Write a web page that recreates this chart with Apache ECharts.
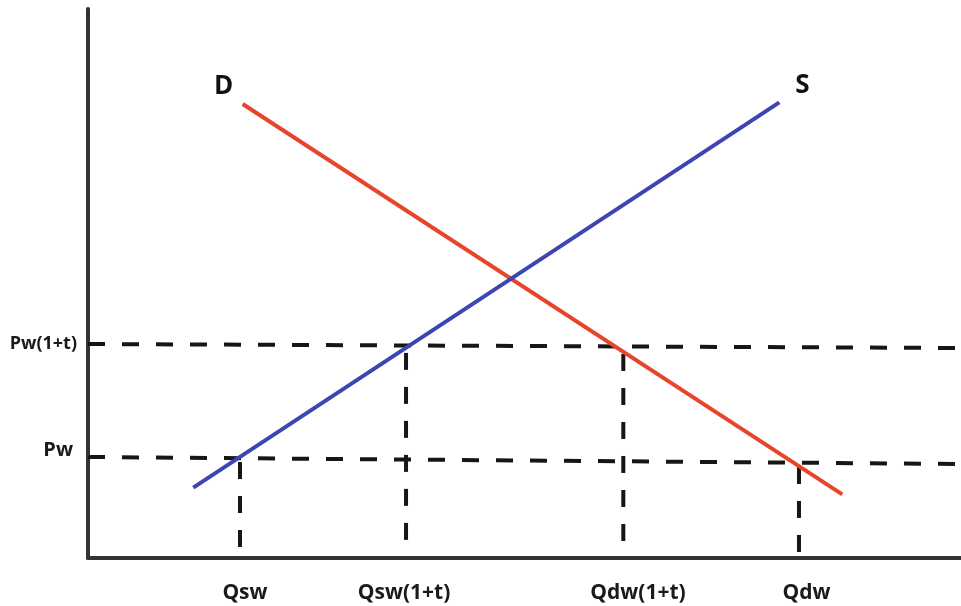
<!DOCTYPE html>
<html>
<head>
<meta charset="utf-8">
<script src="https://cdn.jsdelivr.net/npm/echarts@6/dist/echarts.min.js"></script>
<style>
html,body{margin:0;padding:0;background:#fff;}
#chart{width:961px;height:606px;}
</style>
</head>
<body>
<div id="chart"></div>
<script>
// Data (abstract units: x 0-100 quantity, y 0-100 price)
const demandX = [17.72, 86.40];
const demandY = [82.70, 11.60];
const supplyX = [12.06, 79.19];
const supplyY = [12.81, 83.00];

const pwTaxLineX = [0, 100];
const pwTaxLineY = [38.98, 38.25];
const pwLineX = [0, 100];
const pwLineY = [18.40, 17.12];

const vertNames = ['Qsw', 'Qsw(1+t)', 'Qdw(1+t)', 'Qdw'];
const vertX = [17.41, 36.43, 61.32, 81.44];
const vertBottom = [2.0, 3.3, 3.1, 1.1];
const vertTop = [18.2, 38.8, 38.6, 17.0];

const xLabelNames = ['Qsw', 'Qsw(1+t)', 'Qdw(1+t)', 'Qdw'];
const xLabelPos = [17.98, 36.2, 63.0, 82.3];
const yLabelNames = ['Pw(1+t)', 'Pw'];
const yLabelPos = [39.0, 19.67];

const curveNames = ['D', 'S'];

function nearestIdx(arr, v) {
  let best = 0, bd = Infinity;
  arr.forEach((a, i) => { const d = Math.abs(a - v); if (d < bd) { bd = d; best = i; } });
  return best;
}

const dashStyle = { color: '#161616', width: 4, type: [17, 17] };
const series = [];

series.push({
  type: 'line', name: 'pwTax', symbol: 'none', silent: true,
  data: pwTaxLineX.map((x, i) => [x, pwTaxLineY[i]]),
  lineStyle: dashStyle, z: 2
});
series.push({
  type: 'line', name: 'pw', symbol: 'none', silent: true,
  data: pwLineX.map((x, i) => [x, pwLineY[i]]),
  lineStyle: dashStyle, z: 2
});
vertX.forEach((x, i) => {
  series.push({
    type: 'line', name: vertNames[i], symbol: 'none', silent: true,
    data: [[x, vertBottom[i]], [x, vertTop[i]]],
    lineStyle: dashStyle, z: 2
  });
});
series.push({
  type: 'line', name: 'Demand', symbol: 'none', silent: true,
  data: demandX.map((x, i) => [x, demandY[i]]),
  lineStyle: { color: '#e8442b', width: 4 }, z: 3
});
series.push({
  type: 'line', name: 'Supply', symbol: 'none', silent: true,
  data: supplyX.map((x, i) => [x, supplyY[i]]),
  lineStyle: { color: '#3d45b3', width: 4 }, z: 4
});
// Curve name labels at curve ends
series.push({
  type: 'scatter', silent: true, symbol: 'circle', symbolSize: 0.01,
  itemStyle: { color: '#ffffff', opacity: 1 },
  data: [
    { value: [demandX[0], demandY[0]], label: { formatter: curveNames[0], offset: [-19, 0] } },
    { value: [supplyX[1], supplyY[1]], label: { formatter: curveNames[1], offset: [23, 0] } }
  ],
  label: {
    show: true, position: 'top', distance: 4, opacity: 1,
    fontFamily: 'Open Sans', fontWeight: 'bold', fontSize: 26, color: '#111111'
  },
  z: 5
});

const chart = echarts.init(document.getElementById('chart'), null, { renderer: 'canvas' });
chart.setOption({
  animation: false,
  backgroundColor: '#ffffff',
  grid: { left: 88, right: 0, top: 9, bottom: 48, containLabel: false },
  xAxis: {
    type: 'value', min: 0, max: 100,
    splitLine: { show: false },
    axisTick: { show: false },
    axisLine: { show: true, onZero: false, lineStyle: { color: '#333333', width: 4 } },
    axisLabel: {
      show: true, customValues: xLabelPos, margin: 25,
      fontFamily: 'Open Sans', fontWeight: 'bold', fontSize: 21, color: '#1a1a1a',
      formatter: v => xLabelNames[nearestIdx(xLabelPos, v)]
    }
  },
  yAxis: {
    type: 'value', min: 0, max: 100,
    splitLine: { show: false },
    axisTick: { show: false },
    axisLine: { show: true, onZero: false, lineStyle: { color: '#333333', width: 4 } },
    axisLabel: {
      show: true, customValues: yLabelPos, margin: 11,
      fontFamily: 'Open Sans', fontWeight: 'bold', fontSize: 18, color: '#1a1a1a',
      formatter: v => {
        const i = nearestIdx(yLabelPos, v);
        return i === 1 ? '{p|' + yLabelNames[i] + '}' : yLabelNames[i];
      },
      rich: { p: { fontFamily: 'Open Sans', fontWeight: 'bold', fontSize: 20, color: '#1a1a1a', padding: [0, 4, 0, 0] } }
    }
  },
  series: series
});
</script>
</body>
</html>
